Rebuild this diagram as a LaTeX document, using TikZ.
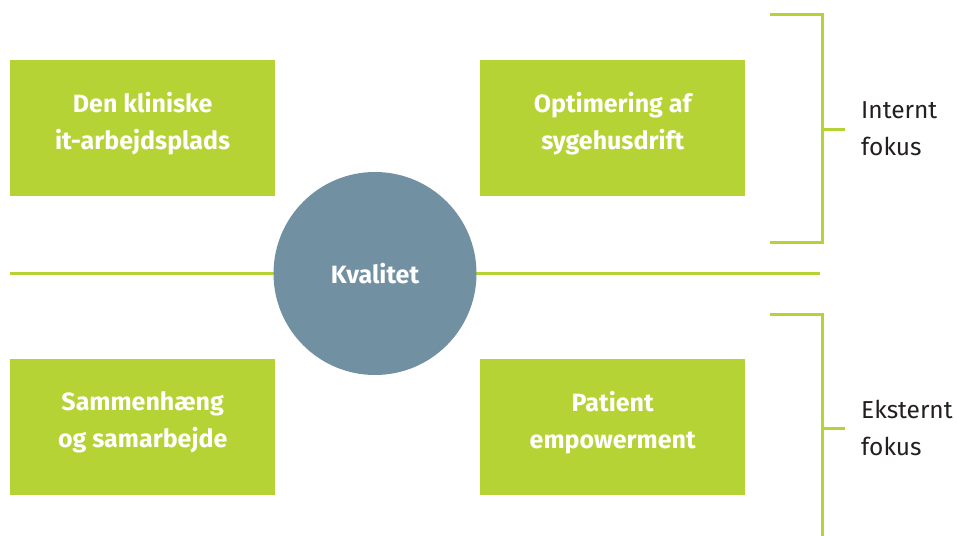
\documentclass[tikz,border=0pt]{standalone}
\usepackage{fontspec}
\setmainfont{Fira Sans}
\definecolor{lime}{HTML}{B5D334}
\definecolor{slate}{HTML}{7191A3}
\definecolor{ink}{HTML}{231F20}
\begin{document}
\begin{tikzpicture}[x=1pt,y=-1pt,
  box/.style={fill=lime,draw=none,minimum width=265pt,minimum height=136pt,inner sep=0pt,anchor=north west},
  boxtext/.style={text=white,font=\fontsize{25}{37}\selectfont\bfseries,align=center,inner sep=0pt},
  line/.style={draw=lime,line width=3pt},
  lbl/.style={text=ink,font=\fontsize{24.5}{37}\selectfont,align=left,anchor=west,inner sep=0pt}]
\useasboundingbox (0,0) rectangle (957,535);
\fill[white] (0,0) rectangle (957,535);
\coordinate (hl) at (10,273);
\coordinate (hr) at (820,273);
\draw[line] (hl) -- (hr);
\node[box] (tl) at (10,60) {};
\node[box] (tr) at (480,60) {};
\node[box] (bl) at (10,359) {};
\node[box] (br) at (480,359) {};
\node[boxtext] (tlt) at ([yshift=5pt]tl.center) {Den kliniske\\it-arbejdsplads};
\node[boxtext] (trt) at ([yshift=5pt]tr.center) {Optimering af\\sygehusdrift};
\node[boxtext] (blt) at ([yshift=5pt]bl.center) {Sammenhæng\\og samarbejde};
\node[boxtext] (brt) at ([yshift=5pt]br.center) {Patient\\empowerment};
\node[circle,fill=slate,minimum size=203pt,inner sep=0pt,text=white,
  font=\fontsize{25}{30}\selectfont\bfseries] (k) at (375,273.5) {Kvalitet};
% brackets
\coordinate (a1) at (770,15);
\coordinate (a2) at (822,15);
\coordinate (a3) at (822,242);
\coordinate (a4) at (770,242);
\coordinate (at) at (822,129);
\coordinate (ate) at (845,129);
\draw[line] (a1) -- (a2) -- (a3) -- (a4);
\draw[line] (at) -- (ate);
\coordinate (b1) at (770,314);
\coordinate (b2) at (822,314);
\coordinate (b3) at (822,536);
\coordinate (bt) at (822,428);
\coordinate (bte) at (845,428);
\draw[line] (b1) -- (b2) -- (b3);
\draw[line] (bt) -- (bte);
\node[lbl] (int) at (861,129) {Internt\\fokus};
\node[lbl] (ext) at (861,428) {Eksternt\\fokus};
\end{tikzpicture}
\end{document}
